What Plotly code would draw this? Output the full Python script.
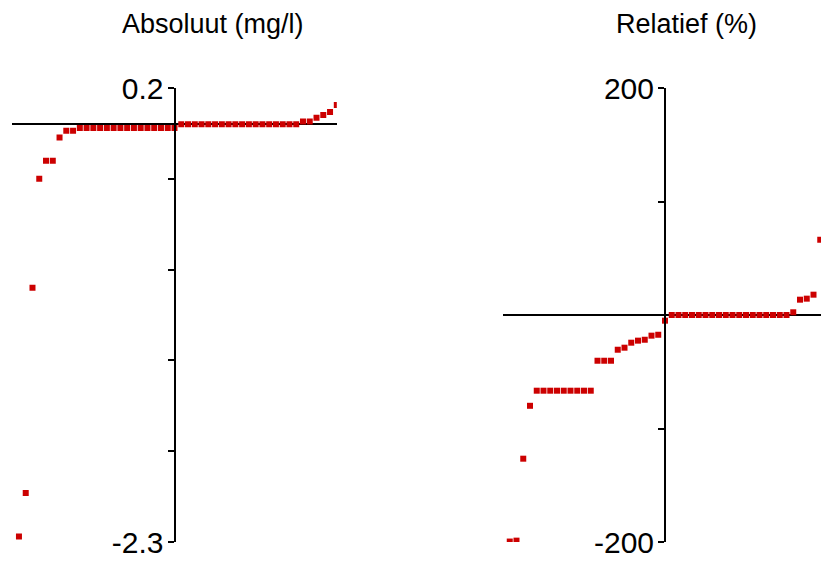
import plotly.graph_objects as go

# ---- data ----
rank = list(range(1, 49))

abs_values = [-2.27, -2.03, -0.90, -0.30, -0.20, -0.20, -0.073, -0.036, -0.036,
              -0.02, -0.02, -0.02, -0.02, -0.02, -0.02, -0.02, -0.02, -0.02, -0.02,
              -0.02, -0.02, -0.02, -0.02, -0.02,
              0.0, 0.0, 0.0, 0.0, 0.0, 0.0, 0.0, 0.0, 0.0, 0.0, 0.0, 0.0, 0.0, 0.0,
              0.0, 0.0, 0.0, 0.0,
              0.015, 0.015, 0.036, 0.051, 0.068, 0.107]

rel_values = [-199.6, -198.8, -126.6, -80.0,
              -66.7, -66.7, -66.7, -66.7, -66.7, -66.7, -66.7, -66.7, -66.7,
              -40.3, -40.3, -40.3, -30.6, -28.8, -24.4, -22.6, -21.8, -18.2, -17.4,
              -5.0,
              0.0, 0.0, 0.0, 0.0, 0.0, 0.0, 0.0, 0.0, 0.0, 0.0, 0.0, 0.0, 0.0, 0.0,
              0.0, 0.0, 0.0, 0.0,
              2.4, 13.5, 14.4, 17.9, 66.3, 85.0]

abs_ticks = [0.2, -0.3, -0.8, -1.3, -1.8, -2.3]
abs_ticktext = ["0.2", "", "", "", "", "-2.3"]
rel_ticks = [200, 100, 0, -100, -200]
rel_ticktext = ["200", "", "", "", "-200"]

titles = ["Absoluut (mg/l)", "Relatief (%)"]

# ---- layout geometry (pixels) ----
W, H = 821, 562
FONT = "Liberation Sans, Arial, Helvetica, sans-serif"
RED = "rgb(204,0,0)"

y_bottom_px, y_top_px = 542, 88
ydom = [(H - y_bottom_px) / H, (H - y_top_px) / H]

left_x0, left_axis = 12.2, 174.5
left_step = (left_axis - left_x0) / 24
left_x1 = left_x0 + 48 * left_step

right_x0, right_axis = 503.0, 665.0
right_step = (right_axis - right_x0) / 24
right_range_max = (W - right_x0) / right_step

fig = go.Figure()
fig.add_trace(go.Scatter(x=rank, y=abs_values, mode="markers", xaxis="x", yaxis="y",
                         marker=dict(symbol="square", size=6, color=RED, line=dict(width=0)),
                         showlegend=False, hoverinfo="skip"))
fig.add_trace(go.Scatter(x=rank, y=rel_values, mode="markers", xaxis="x2", yaxis="y2",
                         marker=dict(symbol="square", size=6, color=RED, line=dict(width=0)),
                         showlegend=False, hoverinfo="skip"))

common_y = dict(showgrid=False, showline=True, linecolor="black", linewidth=2,
                ticks="outside", ticklen=6, tickwidth=2, tickcolor="black",
                zeroline=True, zerolinecolor="black", zerolinewidth=2,
                tickfont=dict(family=FONT, size=30, color="black"),
                ticklabelstandoff=-2, anchor="free", domain=ydom, fixedrange=True,
                automargin=False)

fig.update_layout(
    width=W, height=H,
    margin=dict(l=0, r=0, t=0, b=0, pad=0, autoexpand=False),
    paper_bgcolor="white", plot_bgcolor="white",
    xaxis=dict(domain=[left_x0 / W, left_x1 / W], range=[0, 48], visible=False,
               showgrid=False, zeroline=False, anchor="y", automargin=False),
    yaxis=dict(range=[-2.3, 0.2], tickvals=abs_ticks, ticktext=abs_ticktext,
               position=left_axis / W, **common_y),
    xaxis2=dict(domain=[right_x0 / W, 1.0], range=[0, right_range_max], visible=False,
                showgrid=False, zeroline=False, anchor="y2", automargin=False),
    yaxis2=dict(range=[-200, 200], tickvals=rel_ticks, ticktext=rel_ticktext,
                position=right_axis / W, **common_y),
)

title_y = 1 - 24 / H
fig.add_annotation(text=titles[0], x=213.4 / W, y=title_y, xref="paper", yref="paper",
                   xanchor="center", yanchor="middle", showarrow=False,
                   font=dict(family=FONT, size=27, color="black"))
fig.add_annotation(text=titles[1], x=686 / W, y=title_y, xref="paper", yref="paper",
                   xanchor="center", yanchor="middle", showarrow=False,
                   font=dict(family=FONT, size=27, color="black"))

fig.write_html("out.html",
               config={"displayModeBar": False, "staticPlot": True},
               post_script="document.body.style.margin='0';document.body.style.overflow='hidden';")
